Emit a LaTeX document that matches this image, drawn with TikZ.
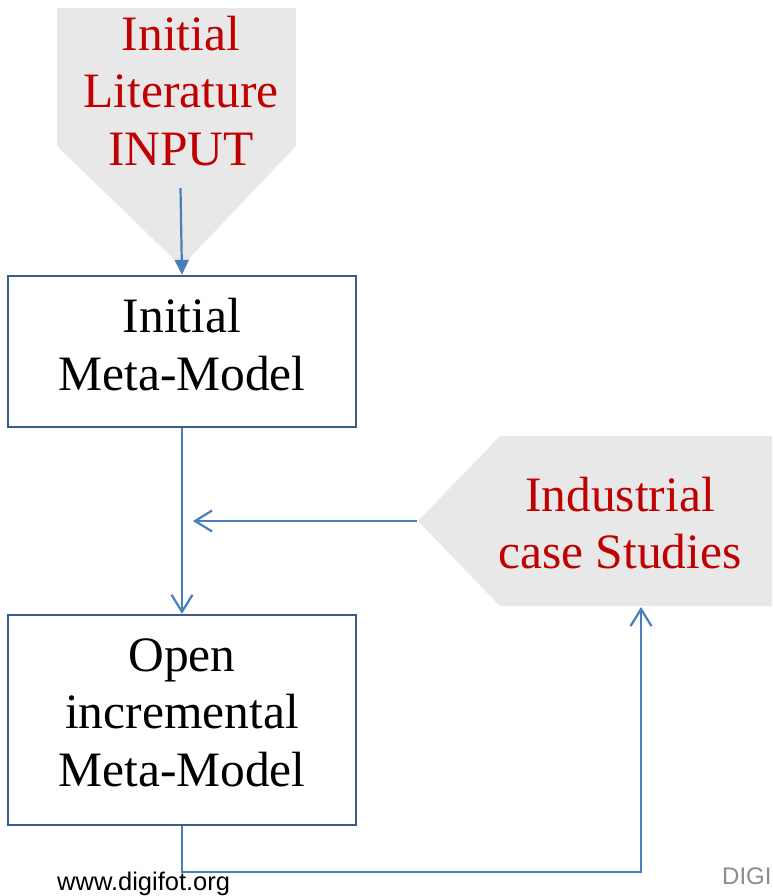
\documentclass[tikz,border=0pt]{standalone}
\usepackage{fontspec}
\setmainfont{Liberation Serif}
\newfontfamily\footfont{Liberation Sans}
\usetikzlibrary{arrows.meta}

\definecolor{linkblue}{HTML}{4A7EBB}
\definecolor{boxblue}{HTML}{385D8A}
\definecolor{srcgray}{HTML}{E8E8E8}
\definecolor{srcred}{HTML}{C00000}
\definecolor{markgray}{HTML}{8C8C8C}

\tikzset{
  bigtext/.style={align=center, inner sep=0pt,
    font=\fontsize{49.5}{57.5}\selectfont},
  srctext/.style={bigtext, text=srcred},
  modelbox/.style={draw=boxblue, line width=2.3pt, fill=white,
    minimum width=348pt, inner sep=0pt},
  srcshape/.style={fill=srcgray, draw=none},
  link/.style={draw=linkblue, line width=2.2pt},
  openhead/.style={link, -{Straight Barb[length=17pt, width=21pt, line width=2.2pt]}},
  solidhead/.style={link, -{Triangle[length=15pt, width=14pt]}},
  foottext/.style={inner sep=0pt, anchor=base west}
}

\begin{document}
\begin{tikzpicture}[x=1pt, y=-1pt]
  % page frame
  \useasboundingbox[fill=white] (0,0) rectangle (772,896);

  % literature source (pentagon pointing down)
  \fill[srcshape] (57,8) -- (296,8) -- (296,146) -- (181.5,266.5) -- (57,146) -- cycle;
  \node[srctext] (lit) at (181,91) {Initial\\Literature\\INPUT};
  \coordinate (litout) at (180.5,188);

  % industrial case studies (pentagon pointing left)
  \fill[srcshape] (418,521) -- (500,436) -- (772,436) -- (772,606) -- (500,606) -- cycle;
  \node[srctext] (ind) at (620,523) {Industrial\\case Studies};
  \coordinate (indtip) at (417,521);
  \coordinate (indbot) at (641,607);

  % meta-model boxes
  \node[modelbox, minimum height=151pt] (m1) at (182,351.5) {};
  \node[bigtext] (m1text) at (182,344.6) {Initial\\Meta-Model};
  \node[modelbox, minimum height=210pt] (m2) at (182,720) {};
  \node[bigtext] (m2text) at (182,712.6) {Open\\incremental\\Meta-Model};

  % connectors
  \coordinate (merge) at (193,521);
  \coordinate (loop) at (641,872);
  \draw[solidhead] (litout) -- (m1.north);
  \draw[openhead] (m1.south) -- (m2.north);
  \draw[openhead] (indtip) -- (merge);
  \draw[openhead] (m2.south) |- (loop) -- (indbot);

  % footer
  \node[foottext, font=\footfont\fontsize{25.5}{30}\selectfont] (web) at (57,890) {www.digifot.org};
  \node[foottext, text=markgray, font=\footfont\fontsize{24}{28}\selectfont] (mark) at (722,884) {DIGI};
\end{tikzpicture}
\end{document}
